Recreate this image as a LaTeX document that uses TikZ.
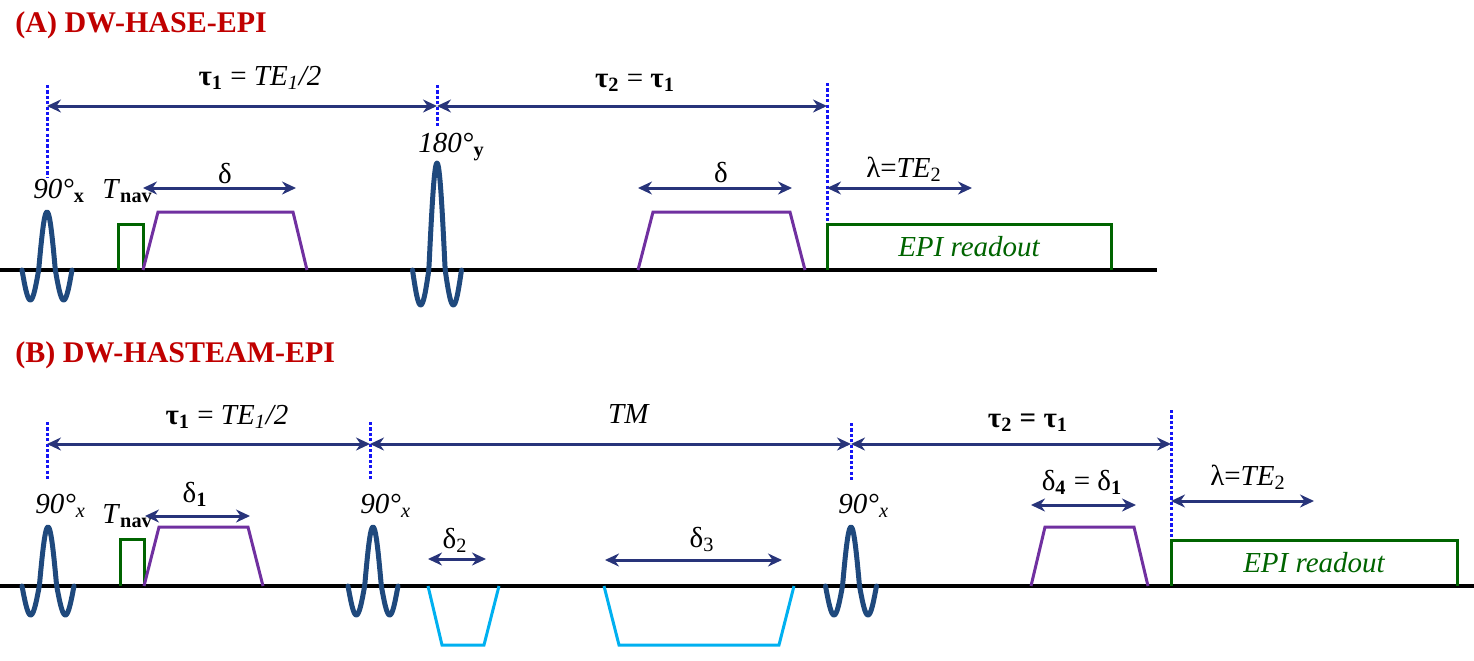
\documentclass[tikz,border=0pt]{standalone}
\usepackage{fontspec}
\setmainfont{Liberation Serif}
\usetikzlibrary{arrows.meta}

\definecolor{titlered}{RGB}{192,0,0}
\definecolor{pulseblue}{RGB}{31,73,125}
\definecolor{spannavy}{RGB}{40,52,122}
\definecolor{markblue}{RGB}{20,20,245}
\definecolor{navgreen}{RGB}{0,100,0}
\definecolor{gradpurple}{RGB}{112,48,160}
\definecolor{gradcyan}{RGB}{0,176,240}

\newcommand{\subtxt}[1]{\textsubscript{#1}}

\tikzset{
    rfline/.style={draw=pulseblue, line width=2.5pt, line cap=round, line join=round},
    gradline/.style={line width=1.5pt},
    timeline/.style={draw=black, line width=1.6pt},
    markline/.style={draw=markblue, line width=1.5pt, dash pattern=on 1.6pt off 1.1pt},
    timespan/.style={<->, >={Stealth[length=7pt,width=6.5pt]}, draw=spannavy, line width=1.5pt},
    lbl/.style={inner sep=0pt, font=\fontsize{14.5}{17}\selectfont},
    readout/.style={inner sep=0pt, text=navgreen, font=\fontsize{14.5}{17}\selectfont\itshape},
    paneltitle/.style={inner sep=0pt, anchor=base west, text=titlered, font=\fontsize{15}{18}\selectfont\bfseries},
}

\NewDocumentCommand{\drawpulse}{m m m m m}{
    \def\centerX{#1}
    \def\baseY{#2}
    \def\peakH{#3}
    \def\troughD{#4}
    \def\halfW{#5}
    
    \draw[rfline] plot[domain=-1:1, samples=81, smooth]
        ({\centerX + \halfW*\x}, {\baseY - \peakH*max(cos(270*\x),0) - \troughD*min(cos(270*\x),0)});
}

\NewDocumentCommand{\drawgrad}{m m m m m m o}{
    % base, plateau, four corners; colour falls back to purple
    \IfNoValueTF{#7}{\def\gradcol{gradpurple}}{\def\gradcol{#7}}
    \draw[gradline, draw=\gradcol] (#3,#1) -- (#4,#2) -- (#5,#2) -- (#6,#1);
}

\begin{document}
\begin{tikzpicture}[x=0.5pt, y=-0.5pt]
        \useasboundingbox (0,0) rectangle (1474,660);

        % Panel A: DW-HASE-EPI
        \node[paneltitle] (titleA) at (15,32) {(A) DW-HASE-EPI};
        \draw[timeline] (0,270) -- (1157,270);

        % Time points
        \coordinate (a1) at (47,106);
        \coordinate (a2) at (437,106);
        \coordinate (a3) at (827,106);
        \draw[markline] (47,85) -- (47,177);
        \draw[markline] (437,85) -- (437,128);
        \draw[markline] (827,83) -- (827,224);

        % RF pulses
        \drawpulse{47}{270}{58}{30}{25}
        \drawpulse{437}{270}{107}{35}{24.5}
        \node[lbl, anchor=base west] (p90A) at (33,198) {\textit{90°}\subtxt{\textbf{x}}};
        \node[lbl, anchor=base west] (p180A) at (418,152) {\textit{180°}\subtxt{\textbf{y}}};

        % Navigator, gradients and readout
        \draw[gradline, draw=navgreen] (118,270) |- (143,224) -- (143,270);
        \node[lbl, anchor=base west] (navA) at (102,198) {\textit{T}\subtxt{\textbf{nav}}};
        \drawgrad{270}{212}{143}{158}{293}{307}
        \drawgrad{270}{212}{638}{653}{790}{805}
        \draw[gradline, draw=navgreen] (827,270) |- (1111,224) -- (1111,270);
        \node[readout] (epiA) at (969,247) {EPI readout};

        % Spans
        \draw[timespan] (a1) -- (a2);
        \draw[timespan] (a2) -- (a3);
        \node[lbl, anchor=base] (tau1A) at (260,85) {\textbf{τ\subtxt{1}} = \textit{TE\subtxt{1}/2}};
        \node[lbl, anchor=base] (tau2A) at (635,87) {\textbf{τ\subtxt{2}} = \textbf{τ\subtxt{1}}};
        \coordinate (dA1) at (143,188);
        \coordinate (dA2) at (296,188);
        \coordinate (dA3) at (638,188);
        \coordinate (dA4) at (792,188);
        \coordinate (lA1) at (827,188);
        \coordinate (lA2) at (972,188);
        \draw[timespan] (dA1) -- (dA2);
        \draw[timespan] (dA3) -- (dA4);
        \draw[timespan] (lA1) -- (lA2);
        \node[lbl, anchor=base] (deltaA1) at (225,183) {δ};
        \node[lbl, anchor=base] (deltaA2) at (721,182) {δ};
        \node[lbl, anchor=base] (lambdaA) at (904,177) {λ=\textit{TE}\subtxt{2}};

        % Panel B: DW-HASTEAM-EPI
        \node[paneltitle] (titleB) at (15,362) {(B) DW-HASTEAM-EPI};
        \draw[timeline] (0,586) -- (1474,586);

        % Time points
        \coordinate (b1) at (47,444);
        \coordinate (b2) at (370,444);
        \coordinate (b3) at (851,444);
        \coordinate (b4) at (1171,444);
        \draw[markline] (47,422) -- (47,480);
        \draw[markline] (370,422) -- (370,480);
        \draw[markline] (851,423) -- (851,480);
        \draw[markline] (1171,410) -- (1171,540);

        % RF pulses
        \drawpulse{48}{586}{59}{29}{26}
        \drawpulse{373}{586}{59}{29}{25}
        \drawpulse{851}{586}{59}{29}{25.5}
        \node[lbl, anchor=base west] (p90B1) at (35,513) {\textit{90°}\subtxt{\textit{x}}};
        \node[lbl, anchor=base west] (p90B2) at (360,513) {\textit{90°}\subtxt{\textit{x}}};
        \node[lbl, anchor=base west] (p90B3) at (838,513) {\textit{90°}\subtxt{\textit{x}}};

        % Navigator, gradients and readout
        \draw[gradline, draw=navgreen] (120,586) |- (144,539) -- (144,586);
        \node[lbl, anchor=base west] (navB) at (102,523) {\textit{T}\subtxt{\textbf{nav}}};
        \drawgrad{586}{527}{144}{159}{248}{263}
        \drawgrad{586}{645}{428}{442}{484}{499}[gradcyan]
        \drawgrad{586}{645}{604}{619}{779}{794}[gradcyan]
        \drawgrad{586}{527}{1031}{1045}{1134}{1148}
        \draw[gradline, draw=navgreen] (1171,586) |- (1457,540) -- (1457,586);
        \node[readout] (epiB) at (1314,563) {EPI readout};

        % Spans
        \draw[timespan] (b1) -- (b2);
        \draw[timespan] (b2) -- (b3);
        \draw[timespan] (b3) -- (b4);
        \node[lbl, anchor=base] (tau1B) at (227,424) {\textbf{τ\subtxt{1}} = \textit{TE\subtxt{1}/2}};
        \node[lbl, anchor=base] (tmB) at (629,423) {\textit{TM}};
        \node[lbl, anchor=base] (tau2B) at (1028,427) {\textbf{τ\subtxt{2} = τ\subtxt{1}}};
        \coordinate (dB1) at (145,516);
        \coordinate (dB2) at (250,516);
        \coordinate (dB3) at (428,559);
        \coordinate (dB4) at (486,559);
        \coordinate (dB5) at (605,560);
        \coordinate (dB6) at (782,560);
        \coordinate (dB7) at (1031,505);
        \coordinate (dB8) at (1136,505);
        \coordinate (lB1) at (1171,501);
        \coordinate (lB2) at (1314,501);
        \draw[timespan] (dB1) -- (dB2);
        \draw[timespan] (dB3) -- (dB4);
        \draw[timespan] (dB5) -- (dB6);
        \draw[timespan] (dB7) -- (dB8);
        \draw[timespan] (lB1) -- (lB2);
        \node[lbl, anchor=base] (delta1B) at (195,502) {δ\subtxt{\textbf{1}}};
        \node[lbl, anchor=base] (delta2B) at (455,548) {δ\subtxt{2}};
        \node[lbl, anchor=base] (delta3B) at (702,547) {δ\subtxt{3}};
        \node[lbl, anchor=base] (delta4B) at (1082,490) {δ\subtxt{\textbf{4}} = δ\subtxt{\textbf{1}}};
        \node[lbl, anchor=base] (lambdaB) at (1248,485) {λ=\textit{TE}\subtxt{2}};

    \end{tikzpicture}
\end{document}
